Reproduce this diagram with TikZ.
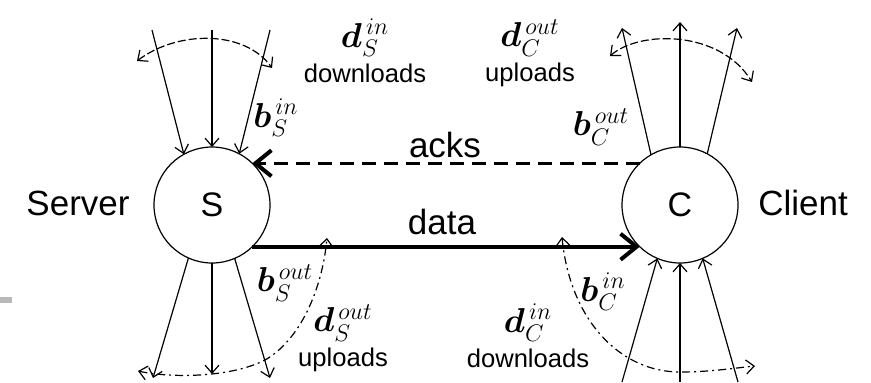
\documentclass[tikz,border=0pt]{standalone}
\usepackage{fontspec}
\setmainfont{Liberation Sans}
\usepackage{amsmath}
\usepackage{bm}
\usetikzlibrary{arrows.meta, positioning}
\definecolor{ink}{RGB}{0,0,0}
\definecolor{smudge}{RGB}{185,185,185}

\begin{document}
\begin{tikzpicture}[
  x=0.5pt, y=-0.5pt,
  node distance=0pt,
  hub/.style={circle, draw=ink, line width=0.6pt, minimum size=58pt, inner sep=0pt, outer sep=0pt,
    font=\fontsize{17}{20}\selectfont},
  tag/.style={font=\fontsize{17.5}{20}\selectfont},
  word/.style={font=\fontsize{12.8}{15}\selectfont, inner sep=1pt},
  rate/.style={font=\fontsize{18}{20}\selectfont, inner sep=1pt},
  fan/.style={-{Straight Barb[length=4pt, width=7pt]}, line width=0.6pt, ink},
  spread/.style={{Straight Barb[length=4pt, width=7pt]}-{Straight Barb[length=4pt, width=7pt]},
    line width=0.6pt, dash pattern=on 4pt off 1.5pt, ink},
  sweep/.style={{Straight Barb[length=4pt, width=7pt]}-{Straight Barb[length=4pt, width=7pt]},
    line width=0.6pt, dash pattern=on 4pt off 2pt on 1pt off 2pt, ink},
  flow/.style={-{Straight Barb[length=8pt, width=13pt, line width=2pt]}, line width=2.2pt, ink, #1},
  flow/.default={}
]
\useasboundingbox (0,0) rectangle (871,382);
\fill[smudge] (0,297) rectangle (12,303);

\node[hub] (srv) at (212,205) {S};
\node[hub] (cli) at (680,205) {C};
\node[tag] (srvname) at (78,203) {Server};
\node[tag] (cliname) at (803,203) {Client};

% fans of the server
\foreach \a/\x [count=\i] in {119/152, 90/212, 62/270} {
  \coordinate (sin\i) at (\x,30);
  \draw[fan] (sin\i) -- (srv.\a);
}
\foreach \a/\x/\y [count=\i] in {246/153/378, 270/212/374, 293/270/378} {
  \coordinate (sout\i) at (\x,\y);
  \draw[fan] (srv.\a) -- (sout\i);
}

% fans of the client
\foreach \a/\x/\y [count=\i] in {120/622/28, 90/680/22, 62/737/28} {
  \coordinate (cout\i) at (\x,\y);
  \draw[fan] (cli.\a) -- (cout\i);
}
\foreach \a/\x [count=\i] in {247/622, 270/680, 293/738} {
  \coordinate (cin\i) at (\x,382);
  \draw[fan] (cin\i) -- (cli.\a);
}

% spread of each fan
\coordinate (sa) at (137,61);  \coordinate (sb) at (272,68);
\coordinate (ca) at (610,56);  \coordinate (cb) at (752,82);
\coordinate (sc) at (138,371); \coordinate (sd) at (327,238);
\coordinate (cc) at (562,237); \coordinate (cd) at (755,366);
\draw[spread] (sa) .. controls (178,30) and (245,30) .. (sb);
\draw[spread] (ca) .. controls (640,30) and (720,30) .. (cb);
\draw[sweep] (sc) .. controls (170,378) and (230,378) .. (265,360)
  .. controls (300,340) and (322,290) .. (sd);
\draw[sweep] (cc) .. controls (570,320) and (620,372) .. (680,372)
  .. controls (710,372) and (735,368) .. (cd);

\draw[flow={dash pattern=on 7pt off 4pt, line width=1.6pt}] (cli.134) -- (srv.46);
\draw[flow] (srv.314) -- (cli.226);
\node[tag] (acks) at (445,145) {acks};
\node[tag] (data) at (442,222) {data};

\node[rate] (dsin) at (365,38) {$\bm{d}^{\,in}_{S}$};
\node[word, below=1pt of dsin] (downs) {downloads};
\node[rate] (dcout) at (530,38) {$\bm{d}^{\,out}_{C}$};
\node[word, below=1pt of dcout] (upc) {uploads};
\node[rate] (dsout) at (343,323) {$\bm{d}^{\,out}_{S}$};
\node[word, below=1pt of dsout] (ups) {uploads};
\node[rate] (dcin) at (528,323) {$\bm{d}^{\,in}_{C}$};
\node[word, below=1pt of dcin] (downc) {downloads};

\node[rate] (bsin) at (276,118) {$\bm{b}^{\,in}_{S}$};
\node[rate] (bcout) at (601,127) {$\bm{b}^{\,out}_{C}$};
\node[rate] (bsout) at (285,283) {$\bm{b}^{\,out}_{S}$};
\node[rate] (bcin) at (603,292) {$\bm{b}^{\,in}_{C}$};
\end{tikzpicture}
\end{document}
